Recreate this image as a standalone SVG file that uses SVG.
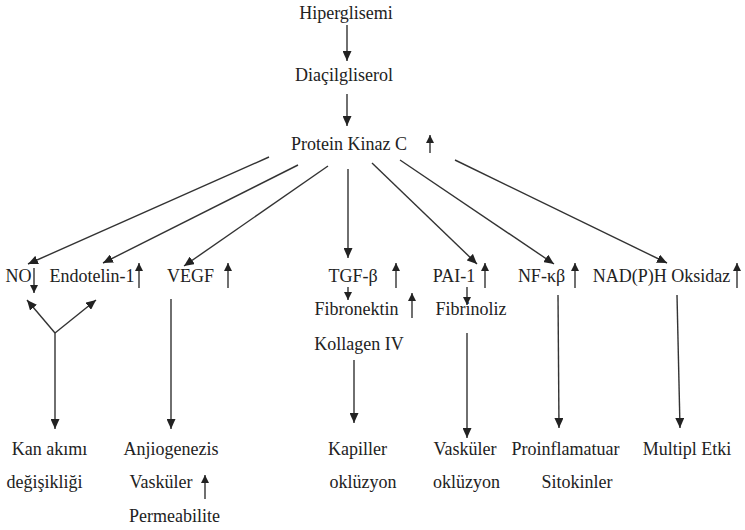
<svg xmlns="http://www.w3.org/2000/svg" width="745" height="530" viewBox="0 0 745 530">
<defs>
<marker id="ah" markerUnits="userSpaceOnUse" markerWidth="11" markerHeight="9" refX="10" refY="4.5" orient="auto">
<path d="M0,0 L10,4.5 L0,9 z" fill="#222"/>
</marker>
<marker id="sh" markerUnits="userSpaceOnUse" markerWidth="9" markerHeight="8" refX="8" refY="4" orient="auto">
<path d="M0,0 L8,4 L0,8 z" fill="#222"/>
</marker>
</defs>
<style>
text{font-size:18px;fill:#222;text-anchor:middle}
.c line{stroke:#333;stroke-width:1.4;fill:none}
.a{marker-end:url(#ah)}
.s{marker-end:url(#sh)}
</style>
<rect width="745" height="530" fill="#fff"/>
<g class="c" id="connectors">
<line class="a" x1="347" y1="25" x2="347" y2="61"/>
<line class="a" x1="347" y1="94" x2="347" y2="126"/>
<line class="s" x1="430" y1="153" x2="430" y2="135"/>
<line class="a" x1="269" y1="157" x2="28" y2="264"/>
<line class="a" x1="298" y1="165" x2="103" y2="263"/>
<line class="a" x1="328" y1="166" x2="184" y2="266"/>
<line class="a" x1="348" y1="169" x2="348" y2="258"/>
<line class="a" x1="372" y1="163" x2="477" y2="264"/>
<line class="a" x1="400" y1="160" x2="554" y2="264"/>
<line class="a" x1="455" y1="160" x2="667" y2="263"/>
<line class="s" x1="34" y1="268" x2="34" y2="293"/>
<line class="s" x1="139" y1="288" x2="139" y2="263"/>
<line class="s" x1="228" y1="288" x2="228" y2="263"/>
<line class="s" x1="396" y1="288" x2="396" y2="263"/>
<line class="s" x1="485" y1="288" x2="485" y2="263"/>
<line class="s" x1="575" y1="288" x2="575" y2="263"/>
<line class="s" x1="737" y1="288" x2="737" y2="263"/>
<line class="s" x1="348" y1="287" x2="348" y2="300"/>
<line class="s" x1="467" y1="287" x2="467" y2="305"/>
<line class="s" x1="412" y1="318" x2="412" y2="293"/>
<line class="a" x1="55" y1="333" x2="27" y2="300"/>
<line class="a" x1="55" y1="333" x2="96" y2="300"/>
<line class="a" x1="55" y1="333" x2="55" y2="429"/>
<line class="a" x1="171" y1="299" x2="171" y2="429"/>
<line class="a" x1="354" y1="360" x2="354" y2="423"/>
<line class="a" x1="467" y1="333" x2="467" y2="438"/>
<line class="a" x1="558" y1="295" x2="559" y2="428"/>
<line class="a" x1="677" y1="295" x2="680" y2="428"/>
<line class="s" x1="205" y1="499" x2="205" y2="475"/>
</g>
<g font-family="'Liberation Serif', 'Times New Roman', Tinos, 'DejaVu Serif', serif">
<g id="n-hiperglisemi"><text x="346" y="19">Hiperglisemi</text></g>
<g id="n-diacilgliserol"><text x="344" y="81">Diaçilgliserol</text></g>
<g id="n-pkc"><text x="349" y="150">Protein Kinaz C</text></g>
<g id="n-no"><text x="18.5" y="282">NO</text></g>
<g id="n-endotelin"><text x="92" y="282">Endotelin-1</text></g>
<g id="n-vegf"><text x="190.5" y="282">VEGF</text></g>
<g id="n-tgf"><text x="353" y="282">TGF-β</text></g>
<g id="n-fibronektin"><text x="356.5" y="315">Fibronektin</text></g>
<g id="n-kollagen"><text x="359" y="350">Kollagen IV</text></g>
<g id="n-pai"><text x="454" y="282">PAI-1</text></g>
<g id="n-fibrinoliz"><text x="471" y="315">Fibrinoliz</text></g>
<g id="n-nfkb"><text x="541.5" y="282">NF-κβ</text></g>
<g id="n-nadph"><text x="661.5" y="282">NAD(P)H Oksidaz</text></g>
<g id="n-kan"><text x="49.5" y="455">Kan akımı</text><text x="44.5" y="488">değişikliği</text></g>
<g id="n-anjio"><text x="171" y="455">Anjiogenezis</text><text x="161" y="488">Vasküler</text><text x="174.5" y="522">Permeabilite</text></g>
<g id="n-kapiller"><text x="357.5" y="455">Kapiller</text><text x="363" y="488">oklüzyon</text></g>
<g id="n-vaskuler"><text x="465" y="455">Vasküler</text><text x="466.5" y="488">oklüzyon</text></g>
<g id="n-proinf"><text x="565.5" y="455">Proinflamatuar</text><text x="577" y="488">Sitokinler</text></g>
<g id="n-multipl"><text x="687" y="455">Multipl Etki</text></g>
</g>
</svg>
